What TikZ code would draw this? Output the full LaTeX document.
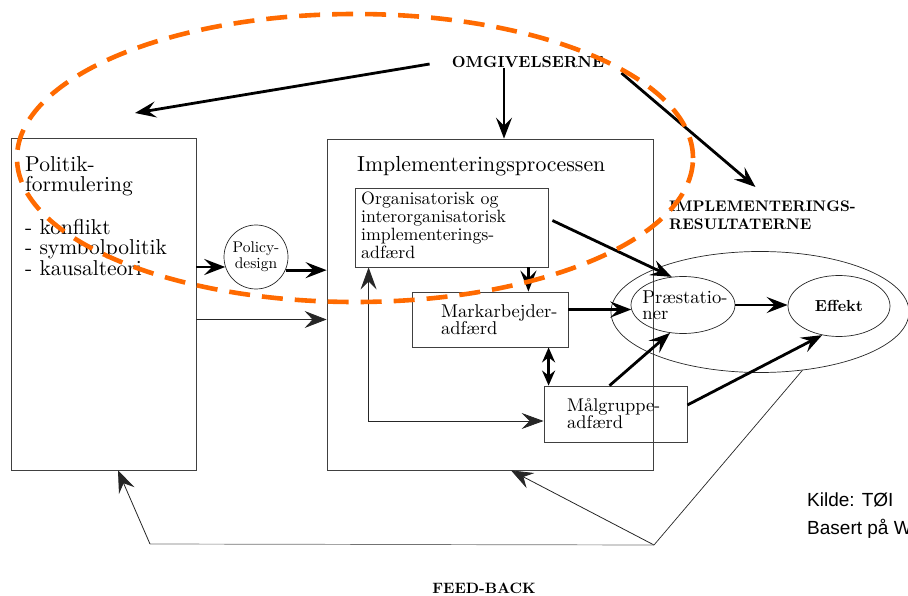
\documentclass[tikz,border=0pt]{standalone}
\usepackage{fontspec}
\setmainfont{lmroman10-regular.otf}[BoldFont=lmroman10-bold.otf,ItalicFont=lmroman10-italic.otf]
\newfontfamily\kildefont{Liberation Sans}
\usetikzlibrary{positioning,arrows.meta,calc,shapes.geometric}
\definecolor{dashorange}{RGB}{255,106,0}

\begin{document}
\begin{tikzpicture}[x=1pt,y=-1pt,
  box/.style={draw=black!75,line width=0.8pt,inner sep=0pt},
  oval/.style={draw=black!85,ellipse,line width=0.7pt,inner sep=0pt},
  lbl/.style={inner sep=0pt,align=left},
  fat/.style={line width=2.8pt,-{Stealth[length=21pt,width=16pt,inset=8pt]}},
  fatboth/.style={line width=2.8pt,{Stealth[length=15pt,width=13pt,inset=5pt]}-{Stealth[length=15pt,width=13pt,inset=5pt]}},
  slim/.style={line width=0.8pt,color=black!85,-{Stealth[length=22pt,width=17pt,inset=8pt]}},
  slimboth/.style={line width=0.8pt,color=black!85,{Stealth[length=22pt,width=16pt,inset=8pt]}-{Stealth[length=22pt,width=16pt,inset=8pt]}}]
\useasboundingbox (0,0) rectangle (908,596);
\clip (0,0) rectangle (908,596);

\node[box,minimum width=185pt,minimum height=332pt] (pol) at (103.5,304) {};
\node[lbl,anchor=north west,font=\fontsize{21.5}{20.5}\selectfont] (poltxt) at (25,156) {Politik-\\formulering\\[22pt]- konflikt\\- symbolpolitik\\- kausalteori};
\node[draw=black!85,circle,minimum size=64pt,inner sep=0pt,line width=0.7pt,align=center,font=\fontsize{15.5}{16}\selectfont] (policy) at (256,257) {Policy-\\design};

\node[box,minimum width=326pt,minimum height=331pt] (impl) at (490,304.5) {};
\node[lbl,anchor=north west,font=\fontsize{21.8}{22}\selectfont] (impltxt) at (357,156) {Implementeringsprocessen};
\node[box,minimum width=193pt,minimum height=79pt] (org) at (451.5,227.5) {};
\node[lbl,anchor=north west,font=\fontsize{17.8}{18}\selectfont] (orgtxt) at (361,192) {Organisatorisk og\\interorganisatorisk\\implementerings-\\adfærd};
\node[box,minimum width=156pt,minimum height=55pt] (mark) at (490,319.5) {};
\node[lbl,anchor=north west,font=\fontsize{18.5}{16.7}\selectfont] (marktxt) at (441,304) {Markarbejder-\\adfærd};
\node[box,minimum width=143pt,minimum height=56pt] (maal) at (615.5,414) {};
\node[lbl,anchor=north west,font=\fontsize{18.4}{16.5}\selectfont] (maaltxt) at (567,398) {Målgruppe-\\adfærd};

\node[oval,minimum width=298pt,minimum height=121pt] (res) at (760,312) {};
\node[oval,minimum width=104pt,minimum height=57pt] (praest) at (683,305) {};
\node[lbl,font=\fontsize{18.6}{16}\selectfont] (praesttxt) at (685,305) {Præstatio-\\ner};
\node[oval,minimum width=102pt,minimum height=61pt,font=\bfseries\fontsize{16}{18}\selectfont] (effekt) at (839,306) {Effekt};

\node[lbl,font=\bfseries\fontsize{16}{17}\selectfont] (omg) at (528,62) {OMGIVELSERNE};
\node[lbl,anchor=north west,font=\bfseries\fontsize{15.3}{18}\selectfont] (impres) at (669,201) {IMPLEMENTERINGS-\\RESULTATERNE};
\node[lbl,font=\bfseries\fontsize{15}{16}\selectfont] (feed) at (484,588) {FEED-BACK};
\node[lbl,anchor=north west,font=\kildefont\fontsize{19}{28}\selectfont] (kilde) at (807,493) {Kilde: TØI\\Basert på W};

\coordinate (polin) at (135,113);
\coordinate (fbjoin) at (654,545);
\coordinate (fbleft) at (150,544);

\draw[fat] ([shift={(-22pt,-2pt)}]omg.west) -- (polin);
\draw[fat] ([xshift=-24pt]omg.south) -- ([xshift=-24pt]omg.south |- impl.north);
\draw[fat] ([shift={(17pt,-11pt)}]omg.east) -- ([shift={(-7pt,14pt)}]impres.north);
\draw[fat] (pol.east |- policy.198) -- (policy.198);
\draw[fat] (policy.-24) -- (policy.-24 -| impl.west);
\draw[slim] (pol.east |- mark) -- (impl.west |- mark);
\draw[fat] ([xshift=-20pt]org.south east) -- ([xshift=-20pt]org.south east |- mark.north);
\draw[fat] ([shift={(4pt,7pt)}]org.east) -- (praest.112);
\draw[fat] (mark.east |- praest.185) -- (praest.185);
\draw[fat] (praest.east) -- (praest.east -| effekt.west);
\draw[fatboth] ([xshift=5pt]maal.north west |- mark.south) -- ([xshift=5pt]maal.north west);
\draw[fat] ([xshift=-6pt]maal.north) -- (praest.-115);
\draw[fat] ([yshift=9pt]maal.east) -- (effekt.-120);
\draw[slimboth] ([xshift=14pt]org.south west) |- ([yshift=-7pt]maal.west);

\draw[line width=0.7pt,black!85] (res.-54) -- (fbjoin);
\draw[slim] (fbjoin) -- ([xshift=21pt]impl.south);
\draw[line width=0.7pt,black!55] (fbjoin) -- (fbleft);
\draw[slim] (fbleft) -- ([xshift=14.5pt]pol.south);

\draw[dashorange,line width=4.6pt,dash pattern=on 21pt off 12pt] (355,158) ellipse [x radius=338pt,y radius=144pt];
\end{tikzpicture}
\end{document}
